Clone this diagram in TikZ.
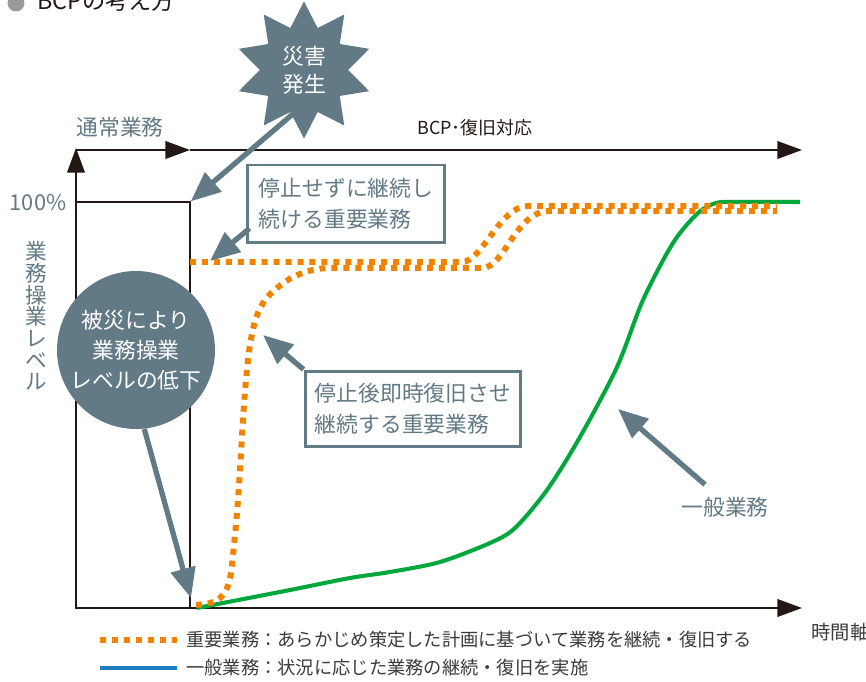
\documentclass[tikz,border=0pt]{standalone}
\usepackage{fontspec}
\setmainfont{Noto Sans CJK JP}
\usepackage{tikz}
\usetikzlibrary{shapes.geometric,arrows.meta}
\usetikzlibrary{calc,positioning}
\definecolor{slate}{HTML}{627986}
\definecolor{ink}{HTML}{231815}
\definecolor{textgray}{HTML}{3E3A39}
\definecolor{keyorange}{HTML}{F08300}
\definecolor{gengreen}{HTML}{00A73C}
\definecolor{legendblue}{HTML}{1F7EC2}
\tikzset{
    axis/.style = {draw=ink, line width=1.1pt, ->},
    levelbox/.style = {draw=ink, line width=0.8pt, rectangle, minimum width=2.28cm, minimum height=8.12cm, inner sep=0pt},
    slatetext/.style = {text=slate, inner sep=0pt, font=\fontsize{12.4pt}{17.5pt}\selectfont},
    note/.style = {draw=slate, line width=1.7pt, rectangle, align=left, text=slate, inner sep=0pt, font=\fontsize{12.4pt}{17.5pt}\selectfont},
    burst/.style = {star, star points=10, star point ratio=1.55, fill=slate, minimum size=2.74cm, inner sep=0pt, text=white, align=center, font=\fontsize{12.4pt}{16pt}\selectfont},
    drop/.style = {circle, fill=slate, minimum size=3.16cm, inner sep=0pt, text=white, align=center, font=\fontsize{12.4pt}{17pt}\selectfont},
    callout/.style = {draw=slate, line width=3pt, -{Triangle[length=17pt,width=14pt]}},
    keyline/.style = {draw=keyorange, line width=3.4pt, dash pattern=on 3.4pt off 3.4pt},
    genline/.style = {draw=gengreen, line width=2.3pt},
    legendtext/.style = {text=textgray, anchor=west, inner sep=0pt, font=\fontsize{10.4pt}{12pt}\selectfont},
}

\begin{document}
\begin{tikzpicture}[x=0.02cm, y=-0.02cm, >={Triangle[length=14pt,width=10pt]}]
    \useasboundingbox (0,0) rectangle (866,682);
    \clip (0,0) rectangle (866,682);
    % title
    \fill[black!40] (16,3) circle (8.5);
    \node [anchor=base west, inner sep=0pt, text=ink, font=\fontsize{13.2pt}{15pt}\selectfont] (title) at (37,10) {BCPの考え方};
    % axes
    \coordinate (origin) at (76,608);
    \coordinate (ytip) at (76,148);
    \coordinate (xtip) at (802,608);
    \coordinate (phase) at (190,150);
    \coordinate (bcptip) at (802,150);
    \node [levelbox] (normal) at (133,405) {};
    \draw [axis] (origin) -- (ytip);
    \draw [axis] (origin) -- (xtip);
    \draw [axis] (ytip |- phase) -- (phase);
    \draw [axis] (phase) -- (bcptip);
    \node [slatetext] (usual) at (120,127) {通常業務};
    \node [inner sep=0pt, text=ink, font=\fontsize{10.2pt}{12pt}\selectfont] (bcp) at (475,128) {BCP･復旧対応};
    \node [slatetext] (full) at (38,203) {100\%};
    \node [slatetext, align=center, font=\fontsize{12.3pt}{12.3pt}\selectfont] (level) at (36,316) {業\\務\\操\\業\\レ\\ベ\\ル};
    \node [inner sep=0pt, anchor=west, text=textgray, font=\fontsize{11pt}{13pt}\selectfont] (time) at (811,632) {時間軸};
    % curves
    \draw [genline] plot [smooth] coordinates {(197,608) (290,590) (350,578) (390,572) (440,562) (490,543) (515,528) (547,490) (580,437) (617,367) (643,300) (673,243) (698,213) (716,203) (736,202) (800,202)};
    \draw [keyline] (190,262) -- (462,262) .. controls (482,262) and (500,206) .. (528,206) -- (777,206);
    \draw [keyline] plot [smooth] coordinates {(196,605) (210,603) (220,598) (227,588) (231,573) (234,545) (237,513) (240,470) (243,420) (246,380) (250,345) (256,318) (265,300) (277,288) (293,277) (313,270) (340,268) (482,268)}
        .. controls (505,268) and (515,211) .. (550,211) -- (777,211);
    % callouts
    \node [burst] (disaster) at (304,70) {災害\\発生};
    \draw [callout] ($(disaster.center)+(-10,43)$) -- (normal.north east);
    \node [note, minimum width=3.96cm, minimum height=1.56cm] (keepnote) at (346,204) {停止せずに継続し\\続ける重要業務};
    \coordinate (keeptip) at (210,261);
    \draw [callout] ($(keepnote.south west)+(4,-16)$) -- (keeptip);
    \node [note, minimum width=4.32cm, minimum height=1.52cm] (restorenote) at (413,409) {停止後即時復旧させ\\継続する重要業務};
    \coordinate (restoretip) at (263,335);
    \draw [callout] (restorenote.north west) -- (restoretip);
    \node [drop] (drop) at (136,350) {被災により\\業務操業\\レベルの低下};
    \coordinate (droptip) at (191,598);
    \draw [callout] (drop.-84) -- (droptip);
    \node [slatetext] (general) at (725,507) {一般業務};
    \coordinate (generaltip) at (618,409);
    \draw [callout] ($(general.north)+(-20,-12)$) -- (generaltip);
    % legend
    \coordinate (keykey) at (100,640);
    \coordinate (genkey) at (100,668);
    \draw [keyline] (keykey) -- ++(77,0);
    \draw [draw=legendblue, line width=2.3pt] (genkey) -- ++(77,0);
    \node [legendtext] (keylegend) at (186,640) {重要業務：あらかじめ策定した計画に基づいて業務を継続・復旧する};
    \node [legendtext] (genlegend) at (186,668) {一般業務：状況に応じた業務の継続・復旧を実施};
\end{tikzpicture}
\end{document}
